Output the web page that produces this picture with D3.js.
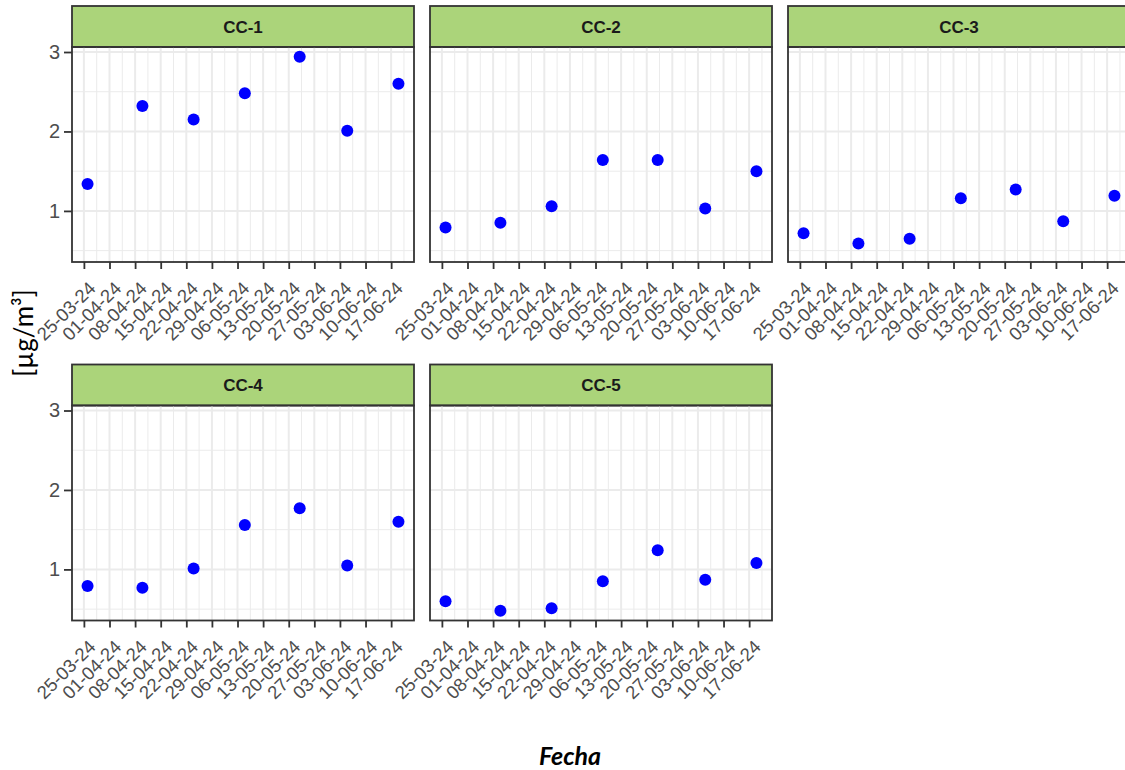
<!DOCTYPE html>
<html lang="es">
<head>
<meta charset="UTF-8">
<title>Concentraciones por estación</title>
<script src="https://d3js.org/d3.v7.min.js"></script>
<style>
    body { margin: 0; background: #fff; }
    .tick text { font-family: "Liberation Sans", Arial, sans-serif; fill: #4d4d4d; }
    .tick line { stroke: #333333; stroke-width: 1.8; }
</style>
</head>
<body>
<svg width="1125" height="770"></svg>
<script>
// datos
var stations = ["CC-1", "CC-2", "CC-3", "CC-4", "CC-5"];
var sampleDates = ["2024-03-26", "2024-04-10", "2024-04-24", "2024-05-08", "2024-05-23", "2024-06-05", "2024-06-19"];
var cc1 = [1.34, 2.32, 2.15, 2.48, 2.94, 2.01, 2.60];
var cc2 = [0.79, 0.85, 1.06, 1.64, 1.64, 1.03, 1.50];
var cc3 = [0.72, 0.59, 0.65, 1.16, 1.27, 0.87, 1.19];
var cc4 = [0.79, 0.77, 1.01, 1.56, 1.77, 1.05, 1.60];
var cc5 = [0.60, 0.48, 0.51, 0.85, 1.24, 0.87, 1.08];
var xTickDates = ["2024-03-25", "2024-04-01", "2024-04-08", "2024-04-15", "2024-04-22", "2024-04-29",
                  "2024-05-06", "2024-05-13", "2024-05-20", "2024-05-27", "2024-06-03", "2024-06-10", "2024-06-17"];
var xTickLabels = ["25-03-24", "01-04-24", "08-04-24", "15-04-24", "22-04-24", "29-04-24",
                   "06-05-24", "13-05-24", "20-05-24", "27-05-24", "03-06-24", "10-06-24", "17-06-24"];
var yTicks = [1, 2, 3];
var yMinorTicks = [0.5, 1.5, 2.5];

var seriesValues = [cc1, cc2, cc3, cc4, cc5];
var parse = d3.utcParse("%Y-%m-%d");
var dates = sampleDates.map(parse);
var tickDates = xTickDates.map(parse);

// tamaño de cada panel
var padLeft = 72, padTop = 6,
    panelW = 342, stripH = 41, panelH = 215,
    colStep = 358, rowStep = 358.5;

var svg = d3.select("svg");

// escalas comunes (expansion del 5% como ggplot)
var xExt = d3.extent(dates);
var xPad = (xExt[1] - xExt[0]) * 0.05;
var x = d3.scaleUtc()
    .domain([new Date(+xExt[0] - xPad), new Date(+xExt[1] + xPad)])
    .range([0, panelW]);

var allVals = d3.merge(seriesValues);
var yExt = d3.extent(allVals);
var yPad = (yExt[1] - yExt[0]) * 0.05;
var y = d3.scaleLinear()
    .domain([yExt[0] - yPad, yExt[1] + yPad])
    .range([panelH, 0]);

var halfWeek = 3.5 * 864e5;
var xMinor = [new Date(+tickDates[0] - halfWeek)]
    .concat(tickDates.map(function(d) { return new Date(+d + halfWeek); }))
    .filter(function(d) { return d >= x.domain()[0] && d <= x.domain()[1]; });

var labelOf = {};
tickDates.forEach(function(d, i) { labelOf[+d] = xTickLabels[i]; });

stations.forEach(function(name, i) {
    var col = i % 3, row = Math.floor(i / 3);
    var g = svg.append("g")
        .attr("transform", "translate(" + (padLeft + col * colStep) + "," + (padTop + row * rowStep) + ")");

    // franja con el nombre
    g.append("rect")
        .attr("x", 0).attr("y", 0)
        .attr("width", panelW).attr("height", stripH)
        .attr("fill", "#abd47a")
        .attr("stroke", "#333333").attr("stroke-width", 1.8);
    g.append("text")
        .attr("x", panelW / 2).attr("y", stripH / 2)
        .attr("dy", "0.36em")
        .attr("text-anchor", "middle")
        .style("font-family", "'Liberation Sans', Arial, sans-serif")
        .style("font-weight", "bold")
        .style("font-size", "17px")
        .attr("fill", "#1a1a1a")
        .text(name);

    var p = g.append("g").attr("transform", "translate(0," + stripH + ")");

    // rejilla
    p.selectAll(".ymin").data(yMinorTicks).enter().append("line")
        .attr("x1", 0).attr("x2", panelW)
        .attr("y1", function(d) { return y(d); }).attr("y2", function(d) { return y(d); })
        .attr("stroke", "#ebebeb").attr("stroke-width", 1);
    p.selectAll(".xmin").data(xMinor).enter().append("line")
        .attr("y1", 0).attr("y2", panelH)
        .attr("x1", function(d) { return x(d); }).attr("x2", function(d) { return x(d); })
        .attr("stroke", "#ebebeb").attr("stroke-width", 1);
    p.selectAll(".ymaj").data(yTicks).enter().append("line")
        .attr("x1", 0).attr("x2", panelW)
        .attr("y1", function(d) { return y(d); }).attr("y2", function(d) { return y(d); })
        .attr("stroke", "#ebebeb").attr("stroke-width", 2);
    p.selectAll(".xmaj").data(tickDates).enter().append("line")
        .attr("y1", 0).attr("y2", panelH)
        .attr("x1", function(d) { return x(d); }).attr("x2", function(d) { return x(d); })
        .attr("stroke", "#ebebeb").attr("stroke-width", 2);

    // puntos
    p.selectAll("circle").data(seriesValues[i]).enter().append("circle")
        .attr("cx", function(d, j) { return x(dates[j]); })
        .attr("cy", function(d) { return y(d); })
        .attr("r", 6)
        .attr("fill", "#0000ff");

    // borde del panel
    p.append("rect")
        .attr("width", panelW).attr("height", panelH)
        .attr("fill", "none")
        .attr("stroke", "#333333").attr("stroke-width", 1.8);

    // eje x
    var ax = p.append("g")
        .attr("transform", "translate(0," + panelH + ")")
        .call(d3.axisBottom(x).tickValues(tickDates).tickSize(7)
            .tickFormat(function(d) { return labelOf[+d]; }));
    ax.select(".domain").remove();
    ax.selectAll(".tick text")
        .style("font-size", "18.5px")
        .attr("text-anchor", "end")
        .attr("y", 0).attr("dy", "0.72em")
        .attr("transform", "translate(3,18) rotate(-45)");

    // eje y solo en la primera columna
    if (col === 0) {
        var ay = p.append("g")
            .call(d3.axisLeft(y).tickValues(yTicks).tickSize(8).tickPadding(4)
                .tickFormat(d3.format("d")));
        ay.select(".domain").remove();
        ay.selectAll(".tick text").style("font-size", "20px");
    }
});

// titulos de ejes
svg.append("text")
    .attr("transform", "translate(33,333) rotate(-90)")
    .attr("text-anchor", "middle")
    .style("font-family", "Lato, 'Open Sans', sans-serif")
    .style("font-size", "26px")
    .attr("fill", "#000")
    .text("[µg/m³]");

svg.append("text")
    .attr("x", 570).attr("y", 765)
    .attr("text-anchor", "middle")
    .style("font-family", "Lato, 'Open Sans', sans-serif")
    .style("font-size", "25px")
    .style("font-weight", "bold")
    .style("font-style", "italic")
    .attr("fill", "#000")
    .text("Fecha");
</script>
</body>
</html>
